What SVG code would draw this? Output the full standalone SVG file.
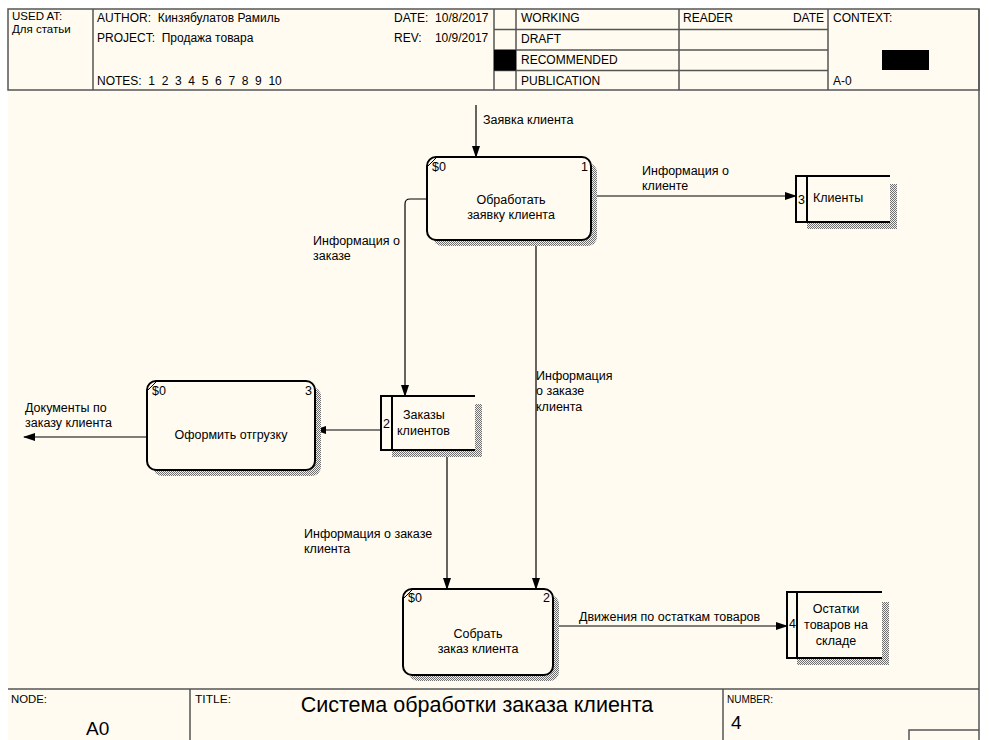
<svg xmlns="http://www.w3.org/2000/svg" width="989" height="740" viewBox="0 0 989 740">
<defs>
<pattern id="hatch" width="2" height="2" patternUnits="userSpaceOnUse">
<rect width="2" height="2" fill="#f4f1e8"/>
<rect width="1" height="1" fill="#6e6e6e"/>
<rect x="1" y="1" width="1" height="1" fill="#6e6e6e"/>
</pattern>
<marker id="arr" markerWidth="12" markerHeight="8" refX="11" refY="4" orient="auto" markerUnits="userSpaceOnUse">
<path d="M0,0 L12,4 L0,8 Z" fill="#000"/>
</marker>
</defs>
<style>
text{font-family:"Liberation Sans",Arial,sans-serif;fill:#000;white-space:pre}
.h{font-size:12px}
.u{font-size:11.5px}
.l{font-size:12.5px}
.s{font-size:10px}
.grid{stroke:#555;stroke-width:1.5;fill:none}
.box{fill:#fffbf0;stroke:#000;stroke-width:2}
.ds{fill:none;stroke:#000;stroke-width:2}
.c{fill:none;stroke:#000;stroke-width:1.2}
.sh{fill:url(#hatch)}
.tick{stroke:#000;stroke-width:1}
</style>
<rect width="989" height="740" fill="#fff"/>
<rect x="8" y="9" width="971" height="740" fill="#fffbf0"/>
<g id="header">
<rect x="8" y="9" width="971" height="81" class="grid"/>
<line x1="93" y1="9" x2="93" y2="90" class="grid"/>
<line x1="494" y1="9" x2="494" y2="90" class="grid"/>
<line x1="516" y1="9" x2="516" y2="90" class="grid"/>
<line x1="679" y1="9" x2="679" y2="90" class="grid"/>
<line x1="828" y1="9" x2="828" y2="90" class="grid"/>
<line x1="494" y1="29.5" x2="828" y2="29.5" class="grid"/>
<line x1="494" y1="50" x2="828" y2="50" class="grid"/>
<line x1="494" y1="70.5" x2="828" y2="70.5" class="grid"/>
<rect x="494" y="50" width="22" height="20.5" fill="#000"/>
<rect x="882" y="50" width="47" height="20" fill="#000"/>
<text class="u" x="12" y="20" xml:space="preserve">USED AT:</text>
<text class="u" x="12" y="33">Для статьи</text>
<text class="h" x="97" y="22" xml:space="preserve">AUTHOR:  Кинзябулатов Рамиль</text>
<text class="h" x="97" y="42" xml:space="preserve">PROJECT:  Продажа товара</text>
<text class="h" x="97" y="85" xml:space="preserve">NOTES:  1  2  3  4  5  6  7  8  9  10</text>
<text class="h" x="394" y="22" xml:space="preserve">DATE:  10/8/2017</text>
<text class="h" x="394" y="42" xml:space="preserve">REV:    10/9/2017</text>
<text class="h" x="521" y="22">WORKING</text>
<text class="h" x="521" y="43">DRAFT</text>
<text class="h" x="521" y="64">RECOMMENDED</text>
<text class="h" x="521" y="85">PUBLICATION</text>
<text class="h" x="683" y="22">READER</text>
<text class="h" x="824" y="22" text-anchor="end">DATE</text>
<text class="h" x="833" y="22">CONTEXT:</text>
<text class="h" x="833" y="85">A-0</text>
</g>
<g id="footer">
<line x1="8" y1="689" x2="979" y2="689" class="grid"/>
<line x1="979" y1="9" x2="979" y2="740" class="grid"/>
<line x1="190" y1="689" x2="190" y2="740" class="grid"/>
<line x1="723" y1="689" x2="723" y2="740" class="grid"/>
<polyline points="909,740 909,730 979,730" class="grid"/>
<text class="s" x="11" y="703" textLength="36" lengthAdjust="spacingAndGlyphs">NODE:</text>
<text x="86" y="735" font-size="19">A0</text>
<text class="s" x="195" y="703" textLength="36" lengthAdjust="spacingAndGlyphs">TITLE:</text>
<text x="477" y="712" font-size="21.5" text-anchor="middle">Система обработки заказа клиента</text>
<text class="s" x="727" y="703" textLength="46" lengthAdjust="spacingAndGlyphs">NUMBER:</text>
<text x="731" y="729" font-size="19">4</text>
</g>
<g id="connectors">
<line x1="476" y1="105" x2="476" y2="157" class="c" marker-end="url(#arr)"/>
<text class="l" x="483" y="124">Заявка клиента</text>
<line x1="591" y1="196" x2="796" y2="196" class="c" marker-end="url(#arr)"/>
<text class="l" x="642" y="175">Информация о</text>
<text class="l" x="642" y="190">клиенте</text>
<path d="M427,199 L410,199 Q405,199 405,204 L405,396" class="c" marker-end="url(#arr)"/>
<text class="l" x="313" y="245">Информация о</text>
<text class="l" x="313" y="260">заказе</text>
<line x1="536" y1="240" x2="536" y2="589" class="c" marker-end="url(#arr)"/>
<text class="l" x="536" y="380">Информация</text>
<text class="l" x="536" y="395">о заказе</text>
<text class="l" x="536" y="411">клиента</text>
<line x1="381" y1="430" x2="315" y2="430" class="c" marker-end="url(#arr)"/>
<line x1="147" y1="437" x2="24" y2="437" class="c" marker-end="url(#arr)"/>
<text class="l" x="25" y="412">Документы по</text>
<text class="l" x="25" y="427">заказу клиента</text>
<line x1="447" y1="450" x2="447" y2="589" class="c" marker-end="url(#arr)"/>
<text class="l" x="304" y="538">Информация о заказе</text>
<text class="l" x="304" y="553">клиента</text>
<line x1="553" y1="626" x2="787" y2="626" class="c" marker-end="url(#arr)"/>
<text class="l" x="579" y="621">Движения по остаткам товаров</text>
</g>
<g id="p1">
<rect x="433" y="163" width="164" height="83" rx="9" class="sh"/>
<rect x="427" y="157" width="164" height="83" rx="9" class="box"/>
<line x1="428" y1="166" x2="436" y2="158" class="tick"/>
<text class="l" x="432" y="171">$0</text>
<text class="l" x="581" y="171">1</text>
<text class="l" x="511" y="204" text-anchor="middle">Обработать</text>
<text class="l" x="511" y="219" text-anchor="middle">заявку клиента</text>
</g>
<g id="p3">
<rect x="153" y="387" width="168" height="89" rx="9" class="sh"/>
<rect x="147" y="381" width="168" height="89" rx="9" class="box"/>
<line x1="148" y1="390" x2="156" y2="382" class="tick"/>
<text class="l" x="152" y="395">$0</text>
<text class="l" x="305" y="395">3</text>
<text class="l" x="231" y="439" text-anchor="middle">Оформить отгрузку</text>
</g>
<g id="p2">
<rect x="409" y="595" width="150" height="86" rx="9" class="sh"/>
<rect x="403" y="589" width="150" height="86" rx="9" class="box"/>
<line x1="404" y1="598" x2="412" y2="590" class="tick"/>
<text class="l" x="408" y="602">$0</text>
<text class="l" x="543" y="602">2</text>
<text class="l" x="478" y="638" text-anchor="middle">Собрать</text>
<text class="l" x="478" y="653" text-anchor="middle">заказ клиента</text>
</g>
<g id="ds3">
<path d="M890,184 h7 v45 h-90 v-7 h83 Z" class="sh"/>
<path d="M890,176 H796 V222 H890 M807,176 V222" class="ds"/>
<text class="l" x="798" y="204">3</text>
<text class="l" x="813" y="202">Клиенты</text>
</g>
<g id="ds2">
<path d="M475,404 h7 v53 h-90 v-7 h83 Z" class="sh"/>
<path d="M475,396 H381 V450 H475 M392,396 V450" class="ds"/>
<text class="l" x="383" y="428">2</text>
<text class="l" x="403" y="419">Заказы</text>
<text class="l" x="397" y="435">клиентов</text>
</g>
<g id="ds4">
<path d="M882,602 h7 v63 h-92 v-7 h85 Z" class="sh"/>
<path d="M882,592 H787 V658 H882 M797,592 V658" class="ds"/>
<text class="l" x="789" y="628">4</text>
<text class="l" x="836" y="613" text-anchor="middle">Остатки</text>
<text class="l" x="836" y="629" text-anchor="middle">товаров на</text>
<text class="l" x="836" y="645" text-anchor="middle">складе</text>
</g>
</svg>
